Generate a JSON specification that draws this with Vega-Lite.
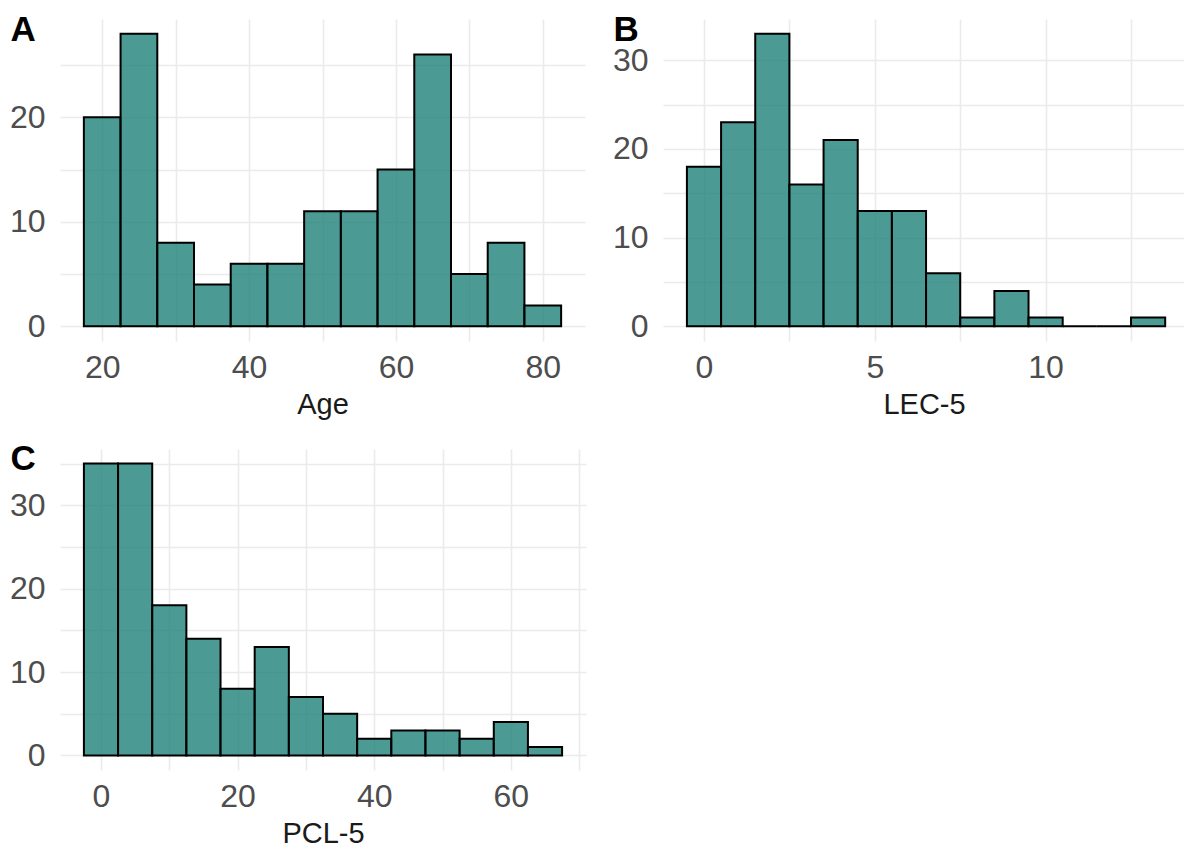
{
  "$schema": "https://vega.github.io/schema/vega-lite/v6.json",
  "padding": {"left": 9, "top": 12, "right": 0, "bottom": 0},
  "background": "white",
  "datasets": {
    "age": [
      {"start": 17.5, "end": 22.5, "count": 20},
      {"start": 22.5, "end": 27.5, "count": 28},
      {"start": 27.5, "end": 32.5, "count": 8},
      {"start": 32.5, "end": 37.5, "count": 4},
      {"start": 37.5, "end": 42.5, "count": 6},
      {"start": 42.5, "end": 47.5, "count": 6},
      {"start": 47.5, "end": 52.5, "count": 11},
      {"start": 52.5, "end": 57.5, "count": 11},
      {"start": 57.5, "end": 62.5, "count": 15},
      {"start": 62.5, "end": 67.5, "count": 26},
      {"start": 67.5, "end": 72.5, "count": 5},
      {"start": 72.5, "end": 77.5, "count": 8},
      {"start": 77.5, "end": 82.5, "count": 2}
    ],
    "lec": [
      {"start": -0.5, "end": 0.5, "count": 18},
      {"start": 0.5, "end": 1.5, "count": 23},
      {"start": 1.5, "end": 2.5, "count": 33},
      {"start": 2.5, "end": 3.5, "count": 16},
      {"start": 3.5, "end": 4.5, "count": 21},
      {"start": 4.5, "end": 5.5, "count": 13},
      {"start": 5.5, "end": 6.5, "count": 13},
      {"start": 6.5, "end": 7.5, "count": 6},
      {"start": 7.5, "end": 8.5, "count": 1},
      {"start": 8.5, "end": 9.5, "count": 4},
      {"start": 9.5, "end": 10.5, "count": 1},
      {"start": 10.5, "end": 11.5, "count": 0},
      {"start": 11.5, "end": 12.5, "count": 0},
      {"start": 12.5, "end": 13.5, "count": 1}
    ],
    "pcl": [
      {"start": -2.5, "end": 2.5, "count": 35},
      {"start": 2.5, "end": 7.5, "count": 35},
      {"start": 7.5, "end": 12.5, "count": 18},
      {"start": 12.5, "end": 17.5, "count": 14},
      {"start": 17.5, "end": 22.5, "count": 8},
      {"start": 22.5, "end": 27.5, "count": 13},
      {"start": 27.5, "end": 32.5, "count": 7},
      {"start": 32.5, "end": 37.5, "count": 5},
      {"start": 37.5, "end": 42.5, "count": 2},
      {"start": 42.5, "end": 47.5, "count": 3},
      {"start": 47.5, "end": 52.5, "count": 3},
      {"start": 52.5, "end": 57.5, "count": 2},
      {"start": 57.5, "end": 62.5, "count": 4},
      {"start": 62.5, "end": 67.5, "count": 1}
    ]
  },
  "columns": 2,
  "bounds": "flush",
  "spacing": {"row": 108, "column": 77},
  "config": {
    "view": {"stroke": null},
    "font": "Liberation Sans",
    "axis": {
      "domain": false,
      "ticks": false,
      "tickSize": 0,
      "grid": true,
      "gridColor": "#EBEBEB",
      "gridWidth": 1.6,
      "labelFont": "Liberation Sans",
      "labelFontSize": 32,
      "labelColor": "#4D4D4D",
      "labelOverlap": false,
      "labelFlush": false,
      "titleFont": "Liberation Sans"
    },
    "axisX": {
      "labelPadding": 11,
      "labelBaseline": "top",
      "titleFontSize": 29,
      "titleFontWeight": "normal",
      "titleColor": "#1a1a1a",
      "titleY": 72,
      "titleBaseline": "alphabetic"
    },
    "axisY": {
      "labelPadding": 15,
      "labelBaseline": "middle",
      "labelDy": 4,
      "titleAngle": 0,
      "titleAlign": "left",
      "titleBaseline": "alphabetic",
      "titleX": -50,
      "titleY": 21,
      "titleFontSize": 35,
      "titleFontWeight": "bold",
      "titleColor": "black"
    }
  },
  "concat": [
    {
      "width": 525,
      "height": 322,
      "data": {"name": "age"},
      "mark": {"type": "bar", "fill": "#1f8179", "fillOpacity": 0.8, "stroke": "black", "strokeWidth": 2},
      "encoding": {
        "x": {
          "field": "start", "type": "quantitative",
          "scale": {"domain": [14.25, 85.75], "nice": false, "zero": false},
          "axis": {"title": "Age", "values": [20, 30, 40, 50, 60, 70, 80], "labelExpr": "datum.value % 20 === 0 ? datum.label : ''"}
        },
        "x2": {"field": "end"},
        "y": {
          "field": "count", "type": "quantitative",
          "scale": {"domain": [-1.4, 29.4], "nice": false, "zero": false},
          "axis": {"title": "A", "values": [0, 5, 10, 15, 20, 25], "labelExpr": "datum.value % 10 === 0 ? datum.label : ''"}
        },
        "y2": {"datum": 0}
      }
    },
    {
      "width": 522,
      "height": 322,
      "data": {"name": "lec"},
      "mark": {"type": "bar", "fill": "#1f8179", "fillOpacity": 0.8, "stroke": "black", "strokeWidth": 2},
      "encoding": {
        "x": {
          "field": "start", "type": "quantitative",
          "scale": {"domain": [-1.2, 14.08], "nice": false, "zero": false},
          "axis": {"title": "LEC-5", "values": [0, 2.5, 5, 7.5, 10, 12.5], "labelExpr": "datum.value % 5 === 0 ? datum.label : ''"}
        },
        "x2": {"field": "end"},
        "y": {
          "field": "count", "type": "quantitative",
          "scale": {"domain": [-1.65, 34.65], "nice": false, "zero": false},
          "axis": {"title": "B", "titleY": 21.5, "values": [0, 5, 10, 15, 20, 25, 30], "labelExpr": "datum.value % 10 === 0 ? datum.label : ''"}
        },
        "y2": {"datum": 0}
      }
    },
    {
      "width": 526,
      "height": 321,
      "data": {"name": "pcl"},
      "mark": {"type": "bar", "fill": "#1f8179", "fillOpacity": 0.8, "stroke": "black", "strokeWidth": 2},
      "encoding": {
        "x": {
          "field": "start", "type": "quantitative",
          "scale": {"domain": [-6, 71], "nice": false, "zero": false},
          "axis": {"title": "PCL-5", "values": [0, 10, 20, 30, 40, 50, 60, 70], "labelExpr": "datum.value % 20 === 0 ? datum.label : ''"}
        },
        "x2": {"field": "end"},
        "y": {
          "field": "count", "type": "quantitative",
          "scale": {"domain": [-1.75, 36.75], "nice": false, "zero": false},
          "axis": {"title": "C", "titleY": 20, "values": [0, 5, 10, 15, 20, 25, 30, 35], "labelExpr": "datum.value % 10 === 0 ? datum.label : ''"}
        },
        "y2": {"datum": 0}
      }
    }
  ]
}
